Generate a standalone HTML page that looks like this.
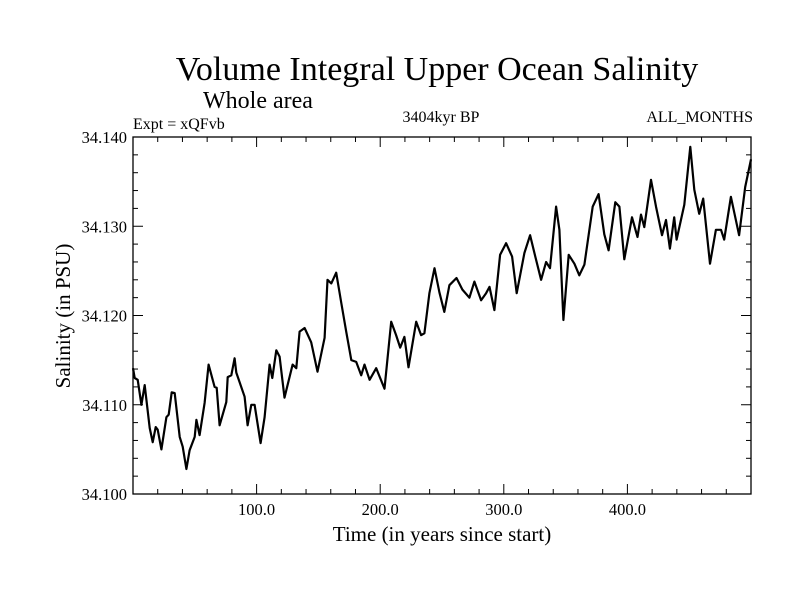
<!DOCTYPE html>
<html><head><meta charset="utf-8"><style>
html,body{margin:0;padding:0;background:#fff;}
svg{display:block;font-family:"Liberation Serif",serif;}
</style></head><body>
<svg id="chart" width="800" height="600" viewBox="0 0 800 600" xmlns="http://www.w3.org/2000/svg">
<text x="437" y="80" font-size="34" text-anchor="middle">Volume Integral Upper Ocean Salinity</text>
<text x="203" y="108" font-size="24">Whole area</text>
<text x="133" y="129" font-size="16">Expt = xQFvb</text>
<text x="441" y="122" font-size="16" text-anchor="middle">3404kyr BP</text>
<text x="753" y="122" font-size="16" text-anchor="end">ALL_MONTHS</text>
<text x="442" y="541" font-size="21" text-anchor="middle">Time (in years since start)</text>
<text transform="translate(70,316) rotate(-90)" font-size="21" text-anchor="middle">Salinity (in PSU)</text>
<g id="ticks"></g>
<g id="series"></g>
<rect x="133" y="137" width="618" height="357" fill="none" stroke="#000" stroke-width="1.3"/>
</svg>
<script>
const years=[0,1.4,3.8,6.8,9.5,13.5,15.9,18.4,20.0,23.0,27.0,28.9,31.3,33.7,37.8,40.2,43.2,45.8,49.9,51.3,53.9,57.9,61.2,66.0,67.7,70.1,75.5,76.6,79.5,82.2,83.6,90.3,92.7,95.7,98.4,103.2,106.5,110.5,112.7,115.9,118.6,122.6,129.1,132.1,134.8,138.8,144.2,149.3,155.0,157.4,160.4,164.4,168.5,172.5,176.6,180.6,184.6,187.3,191.4,196.8,203.5,208.9,212.9,216.2,219.6,222.9,229.1,233.1,235.8,239.8,243.9,247.9,251.9,256.0,261.7,266.5,272.2,276.2,281.6,285.7,288.4,292.4,297.0,301.9,306.7,310.4,316.7,321.3,325.5,330.2,334.2,337.4,342.3,345.0,348.2,352.5,357.1,361.1,365.2,371.9,376.7,381.3,384.8,390.2,393.5,397.5,403.7,408.2,411.0,413.7,419.1,423.1,428.0,431.2,434.4,437.9,439.8,446.0,450.9,454.1,458.1,461.3,466.8,471.6,475.7,478.3,483.7,490.4,495.3,500];
const salinity=[34.1141,34.1130,34.1128,34.1100,34.1122,34.1074,34.1058,34.1075,34.1072,34.1050,34.1086,34.1089,34.1114,34.1113,34.1064,34.1053,34.1028,34.1049,34.1064,34.1083,34.1066,34.1102,34.1145,34.1120,34.1119,34.1077,34.1103,34.1131,34.1133,34.1152,34.1136,34.1109,34.1077,34.1100,34.1100,34.1057,34.1086,34.1145,34.1130,34.1161,34.1154,34.1108,34.1145,34.1141,34.1182,34.1186,34.1170,34.1137,34.1175,34.1240,34.1236,34.1248,34.1214,34.1182,34.1150,34.1148,34.1133,34.1145,34.1128,34.1141,34.1118,34.1193,34.1178,34.1164,34.1176,34.1142,34.1193,34.1178,34.1180,34.1225,34.1253,34.1226,34.1204,34.1234,34.1242,34.1229,34.1220,34.1238,34.1217,34.1225,34.1232,34.1206,34.1268,34.1281,34.1266,34.1225,34.1270,34.1290,34.1266,34.1240,34.1260,34.1253,34.1322,34.1296,34.1195,34.1268,34.1258,34.1245,34.1257,34.1322,34.1336,34.1291,34.1273,34.1327,34.1322,34.1263,34.1310,34.1288,34.1313,34.1299,34.1352,34.1322,34.1290,34.1307,34.1275,34.1310,34.1285,34.1324,34.1389,34.1341,34.1314,34.1331,34.1258,34.1296,34.1296,34.1285,34.1333,34.1290,34.1344,34.1375];
const xTickLabels=["100.0","200.0","300.0","400.0"];
const yTickLabels=["34.100","34.110","34.120","34.130","34.140"];

const NS="http://www.w3.org/2000/svg";
const X0=133,X1=751,Y0=494,Y1=137;
function xs(v){return X0+(v-0)/(500-0)*(X1-X0);}
function ys(v){return Y0-(v-34.100)/(34.140-34.100)*(Y0-Y1);}
const tg=document.getElementById('ticks');
function line(x1,y1,x2,y2){const l=document.createElementNS(NS,'line');l.setAttribute('x1',x1);l.setAttribute('y1',y1);l.setAttribute('x2',x2);l.setAttribute('y2',y2);l.setAttribute('stroke','#000');l.setAttribute('stroke-width','1');


tg.appendChild(l);}
for(let yr=20;yr<500;yr+=20){const x=xs(yr);const L=(yr%100===0)?10:5;line(x,Y0,x,Y0-L);line(x,Y1,x,Y1+L);}
for(let i=0;i<=20;i++){const v=34.100+i*0.002;const y=ys(v);const L=(i%5===0)?10:5;line(X0,y,X0+L,y);line(X1,y,X1-L,y);}
xTickLabels.forEach(s=>{const t=document.createElementNS(NS,'text');t.setAttribute('x',xs(parseFloat(s)));t.setAttribute('y',Y0+21);t.setAttribute('font-size','16.5');t.setAttribute('text-anchor','middle');t.textContent=s;


tg.appendChild(t);});
yTickLabels.forEach(s=>{const t=document.createElementNS(NS,'text');t.setAttribute('x',X0-6);t.setAttribute('y',ys(parseFloat(s))+6);t.setAttribute('font-size','16.5');t.setAttribute('text-anchor','end');t.textContent=s;


tg.appendChild(t);});
const p=document.createElementNS(NS,'polyline');
p.setAttribute('points',years.map((y,i)=>xs(y).toFixed(1)+','+ys(salinity[i]).toFixed(1)).join(' '));
p.setAttribute('fill','none');p.setAttribute('stroke','#000');p.setAttribute('stroke-width','2.2');p.setAttribute('stroke-linejoin','round');


document.getElementById('series').appendChild(p);
</script>
</body></html>
